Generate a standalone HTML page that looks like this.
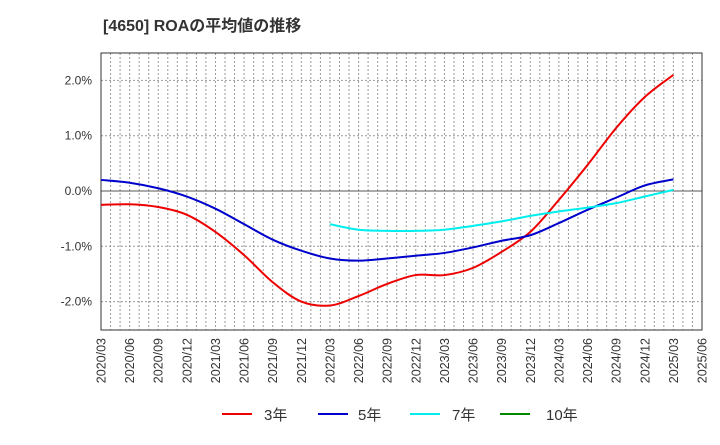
<!DOCTYPE html>
<html><head><meta charset="utf-8"><style>
body{margin:0;background:#fff;width:720px;height:440px;overflow:hidden}
text{font-family:"Liberation Sans","Noto Sans CJK JP",sans-serif}
</style></head><body>
<svg id="c" width="720" height="440"></svg>
<script>
const xLabels=["2020/03","2020/06","2020/09","2020/12","2021/03","2021/06","2021/09","2021/12","2022/03","2022/06","2022/09","2022/12","2023/03","2023/06","2023/09","2023/12","2024/03","2024/06","2024/09","2024/12","2025/03","2025/06"];
const yTicks=[2,1,0,-1,-2];
const s3=[-0.25,-0.24,-0.29,-0.43,-0.74,-1.16,-1.65,-2.0,-2.07,-1.9,-1.68,-1.52,-1.52,-1.39,-1.1,-0.74,-0.16,0.47,1.14,1.7,2.1];
const s5=[0.2,0.15,0.05,-0.1,-0.32,-0.6,-0.88,-1.08,-1.22,-1.26,-1.22,-1.17,-1.12,-1.02,-0.9,-0.8,-0.58,-0.34,-0.12,0.1,0.21];
const s7=[null,null,null,null,null,null,null,null,-0.6,-0.7,-0.72,-0.72,-0.7,-0.63,-0.55,-0.45,-0.37,-0.3,-0.22,-0.1,0.02];
const s10=[];
const L=101,R=702,T=53,B=330;
const X=i=>L+(R-L)*i/(xLabels.length-1);
const Y=v=>191-55.3*v;
const svg=document.getElementById('c');const NS="http://www.w3.org/2000/svg";
function mk(t,a,p){const e=document.createElementNS(NS,t);for(const k in a)e.setAttribute(k,a[k]);(p||svg).appendChild(e);return e;}
let e=mk('text',{x:103,y:31,'font-size':16,'font-weight':'bold',fill:'#333','xml:space':'preserve'});e.textContent='[4650]  ROAの平均値の推移';


for(let m=1;m<63;m++){const x=L+(R-L)*m/63;e=mk('line',{x1:x,x2:x,y1:T,y2:B,stroke:'#999','stroke-dasharray':'2,2','stroke-width':1});

}
yTicks.forEach(v=>{const y=Y(v);e=mk('line',{x1:L,x2:R,y1:y,y2:y,stroke:v===0?'#555':'#999','stroke-dasharray':v===0?'':'2,2'});


e=mk('text',{x:92,y:y+4,'font-size':12,'text-anchor':'end',fill:'#333'});e.textContent=v.toFixed(1)+'%';

});
xLabels.forEach((l,i)=>{const x=X(i);e=mk('text',{x:0,y:0,'font-size':12.5,'text-anchor':'end',fill:'#333',transform:`translate(${x+4.5},338) rotate(-90)`});e.textContent=l;

});
e=mk('rect',{x:L,y:T,width:R-L,height:B-T,fill:'none',stroke:'#333'});


function path(s){const p=[];s.forEach((v,i)=>{if(v!==null)p.push([X(i),Y(v)])});if(p.length<2)return '';let d=`M${p[0][0]},${p[0][1]}`;
for(let i=0;i<p.length-1;i++){const p0=p[i-1]||p[i],p1=p[i],p2=p[i+1],p3=p[i+2]||p2;
d+=`C${p1[0]+(p2[0]-p0[0])/6},${p1[1]+(p2[1]-p0[1])/6} ${p2[0]-(p3[0]-p1[0])/6},${p2[1]-(p3[1]-p1[1])/6} ${p2[0]},${p2[1]}`;}return d;}
[[s3,'#e00','series-3yr'],[s5,'#00c','series-5yr'],[s7,'#0ee','series-7yr'],[s10,'#080','series-10yr']].forEach(([s,c,n])=>{const d=path(s);if(!d)return;e=mk('path',{d:d,fill:'none',stroke:c,'stroke-width':2});

});
[[222,264,'#e00','3年'],[318,358,'#00c','5年'],[410,452,'#0ee','7年'],[500,546,'#080','10年']].forEach(([lx,tx,c,t])=>{
e=mk('line',{x1:lx,x2:lx+30,y1:414,y2:414,stroke:c,'stroke-width':2});


e=mk('text',{x:tx,y:420,'font-size':15,fill:'#333'});e.textContent=t;

});
</script>
</body></html>
